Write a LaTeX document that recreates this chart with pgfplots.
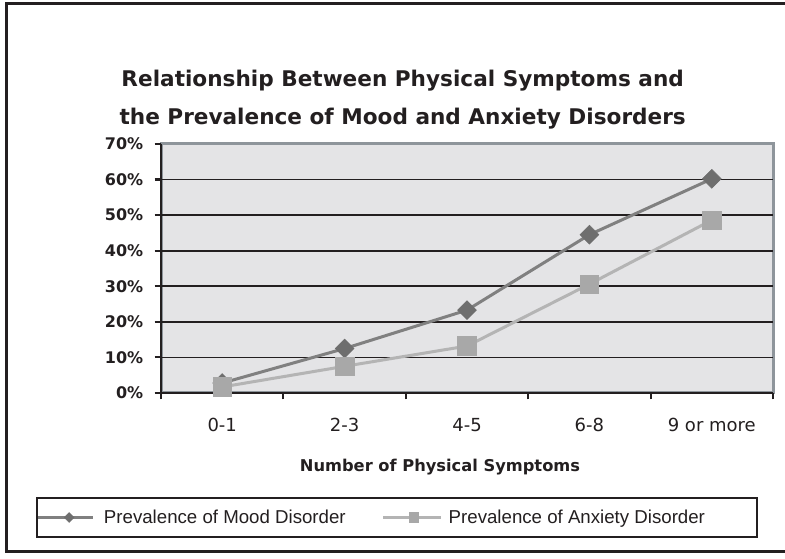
\documentclass[border=0pt]{standalone}
\usepackage{pgfplots}
\pgfplotsset{compat=1.18}
\usepackage{fontspec}
\setmainfont{Liberation Sans}
\newfontfamily\dvs{DejaVu Sans}
\definecolor{bg}{HTML}{E4E4E6}
\definecolor{bordergray}{HTML}{8E959B}
\definecolor{moodline}{HTML}{808080}
\definecolor{moodmark}{HTML}{6E6E6E}
\definecolor{anxline}{HTML}{B4B4B4}
\definecolor{anxmark}{HTML}{A8A8A8}
\definecolor{ink}{HTML}{231F20}
\pgfplotsset{
  moodleg/.style={legend image code/.code={\draw[##1] (0pt,0pt) -- (41pt,0pt); \draw[##1, mark size=2.6pt] plot coordinates {(23pt,0pt)}; \path (46pt,0pt);}},
  anxleg/.style={legend image code/.code={\draw[##1] (0pt,0pt) -- (43pt,0pt); \draw[##1, mark size=3.6pt] plot coordinates {(23pt,0pt)}; \path (46pt,0pt);}},
}
\begin{document}
\begin{tikzpicture}
\useasboundingbox (0pt,0pt) rectangle (588.75pt,419.25pt);
\draw[ink, line width=2.25pt] (600pt,416.25pt) -- (4.5pt,416.25pt) -- (4.5pt,5.25pt) -- (600pt,5.25pt);
\node[font=\dvs\bfseries\fontsize{16.2}{20}\selectfont, text=ink] at (302pt,358.5pt) {Relationship Between Physical Symptoms and};
\node[font=\dvs\bfseries\fontsize{16.2}{20}\selectfont, text=ink] at (302pt,330pt) {the Prevalence of Mood and Anxiety Disorders};
\begin{axis}[
  at={(120.75pt,124.5pt)}, anchor=south west,
  scale only axis, width=459pt, height=186.75pt,
  xmin=-0.5, xmax=4.5, ymin=0, ymax=70,
  axis background/.style={fill=bg, draw=bordergray, line width=2.25pt},
  axis x line*=bottom, axis y line*=left,
  axis line style={-, ink, line width=1.8pt},
  xtick={-0.5,0.5,1.5,2.5,3.5,4.5}, xticklabels={},
  extra x ticks={0,1,2,3,4},
  extra x tick labels={0-1,2-3,4-5,6-8,9 or more},
  extra x tick style={major tick length=0pt, tick style={draw=none}, grid=none},
  ytick={0,10,20,30,40,50,60},
  yticklabel={\pgfmathprintnumber{\tick}\%},
  extra y ticks={70}, extra y tick labels={70\%}, extra y tick style={grid=none},
  ymajorgrids, grid style={ink, line width=1.3pt},
  tick align=outside, major tick length=4.8pt,
  tick style={ink, line width=1.6pt},
  xtick pos=bottom, ytick pos=left,
  /pgf/number format/assume math mode=true,
  yticklabel style={font=\dvs\bfseries\fontsize{12}{14}\selectfont, text=ink, xshift=-5pt},
  xticklabel style={font=\dvs\fontsize{13.5}{15}\selectfont, text=ink, yshift=-15.5pt},
  legend columns=2,
  legend style={at={(axis description cs:0.3856,-0.5)}, anchor=center, draw=ink, line width=1.5pt, fill=white,
    font=\fontsize{14}{16}\selectfont, text=ink, inner xsep=0pt, inner ysep=7pt,
    /tikz/every even column/.append style={column sep=25pt}},
  clip=false,
]
\addplot[moodline, line width=2.25pt, mark=square*, mark size=5pt,
  mark options={rotate=45, fill=moodmark, draw=moodmark, line width=0.4pt}, moodleg]
  coordinates {(0,2.8) (1,12.5) (2,23.3) (3,44.5) (4,60.2)};
\addlegendentry{Prevalence of Mood Disorder}
\addplot[anxline, line width=2.25pt, mark=square*, mark size=7pt,
  mark options={fill=anxmark, draw=anxmark, line width=0.4pt}, anxleg]
  coordinates {(0,1.7) (1,7.5) (2,13.2) (3,30.6) (4,48.6)};
\addlegendentry{Prevalence of Anxiety Disorder\rule{37pt}{0pt}}
\end{axis}
\node[font=\dvs\bfseries\fontsize{12.2}{14}\selectfont, text=ink] at (330pt,69pt) {Number of Physical Symptoms};
\end{tikzpicture}
\end{document}
